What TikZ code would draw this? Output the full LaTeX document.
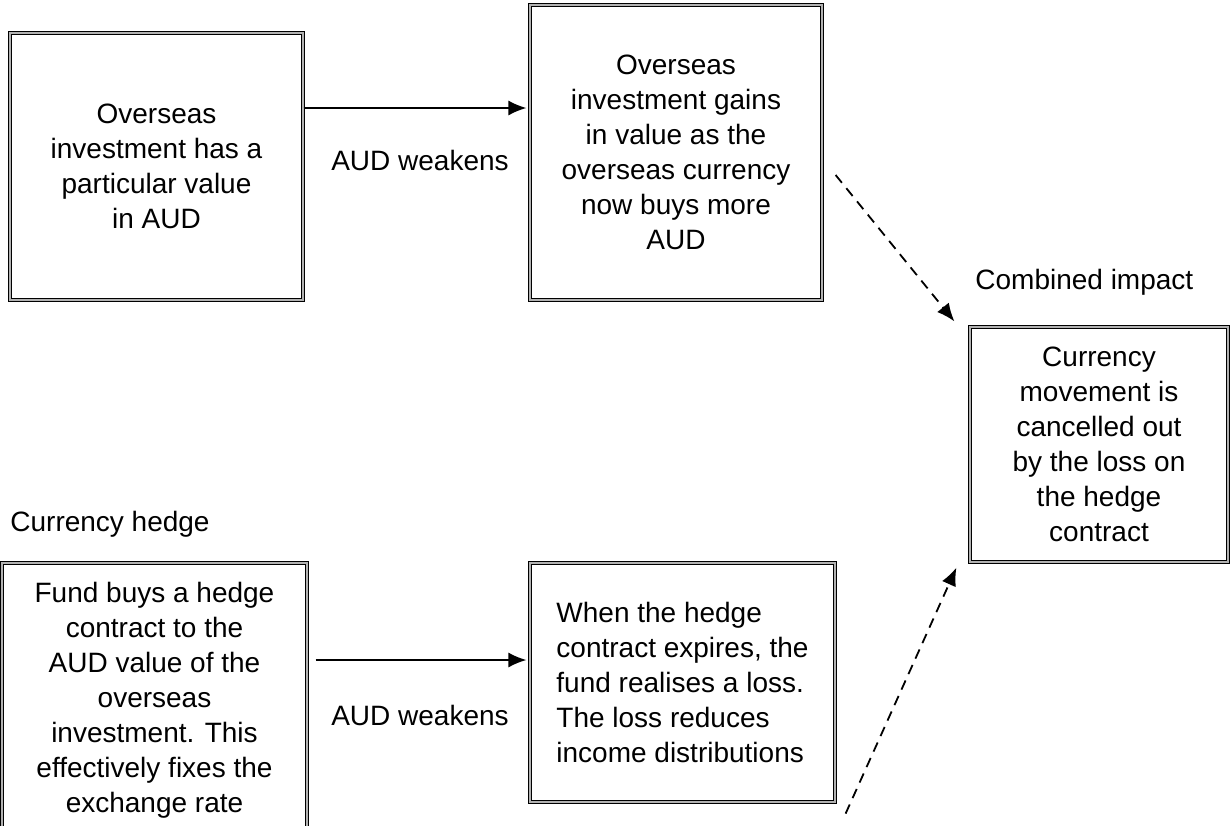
\documentclass[tikz,border=0pt]{standalone}
\usepackage{fontspec}
\setmainfont{Liberation Sans}
\usetikzlibrary{arrows.meta,shadows,calc}
\begin{document}
\begin{tikzpicture}[
  x=0.5pt, y=-0.5pt,
  box/.style={draw=black, line width=0.6pt, double=gray!60, double distance=0.6pt,
    fill=white, inner sep=0pt, align=center, font=\fontsize{14}{17.5}\selectfont,
    drop shadow={shadow xshift=1.2pt, shadow yshift=-1.2pt, fill=gray!60, opacity=1}},
  lbl/.style={font=\fontsize{14}{17.5}\selectfont, inner sep=0pt},
  arr/.style={line width=0.8pt, -{Latex[length=9pt, width=7.5pt]}},
  darr/.style={arr, line width=0.9pt, dash pattern=on 5pt off 3.5pt}
]
  \useasboundingbox[fill=white] (0,0) rectangle (1231,825);

  \node[box, minimum width=146.5pt, minimum height=133.5pt] (1) at (156.5, 166.5)
    {Overseas\\investment has a\\particular value\\in AUD};
  \node[box, minimum width=146pt, minimum height=147.5pt] (2) at (676, 152.5)
    {Overseas\\investment gains\\in value as the\\overseas currency\\now buys more\\AUD};
  \node[box, minimum width=129pt, minimum height=117.5pt] (3) at (1099, 444.5)
    {Currency\\movement is\\cancelled out\\by the loss on\\the hedge\\contract};
  \node[box, minimum width=152.5pt, minimum height=137pt] (4) at (154.5, 700)
    {Fund buys a hedge\\contract to the\\AUD value of the\\overseas\\investment. This\\effectively fixes the\\exchange rate};
  \node[box, align=left, minimum width=152.5pt, minimum height=119.5pt] (5) at (682.5, 682.5)
    {When the hedge\\contract expires, the\\fund realises a loss.\\The loss reduces\\income distributions};

  \node[lbl] (w1) at (420, 160) {AUD weakens};
  \node[lbl] (w2) at (420, 715) {AUD weakens};
  \node[lbl, anchor=west] (hedge) at (10, 524) {Currency hedge};
  \node[lbl, anchor=west] (comb) at (975, 282) {Combined impact};

  \draw[arr] (1.east |- 0,108) -- ([xshift=-1.5pt]2.west |- 0,108);
  \draw[arr] ([xshift=4pt]4.east |- 0,660) -- ([xshift=-1.5pt]5.west |- 0,660);

  \draw[darr] ($(2.east)+(13,22.5)$) -- ($(3.north west)+(-15,-5)$);
  \draw[darr] ($(5.south east)+(10,11)$) -- ($(3.south west)+(-13,5)$);
\end{tikzpicture}
\end{document}
